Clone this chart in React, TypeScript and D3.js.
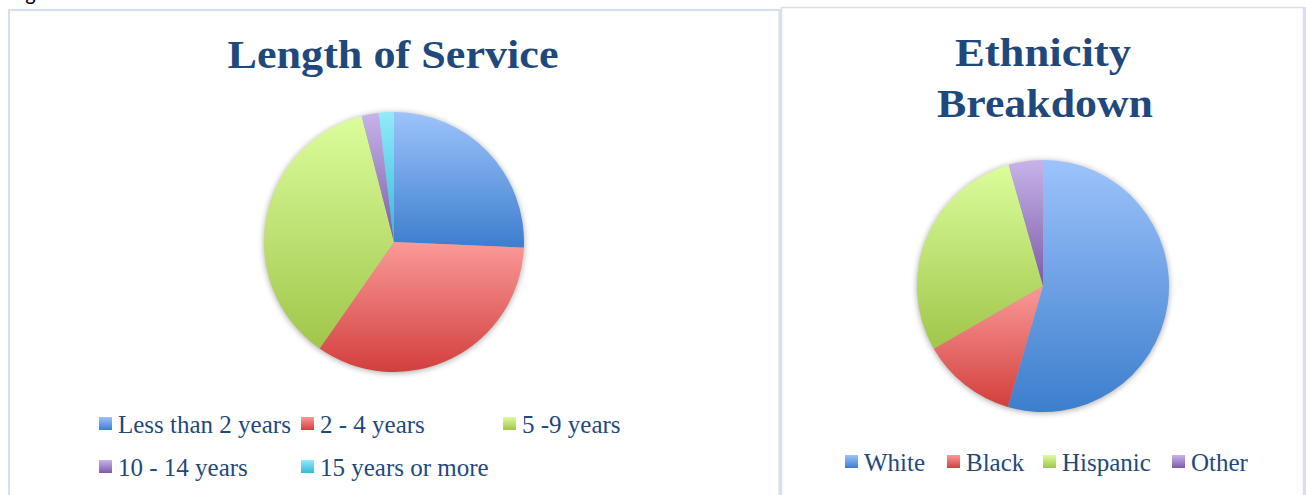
import React from "react";
import * as d3 from "d3";

const lengthCategories = ["Less than 2 years", "2 - 4 years", "5 -9 years", "10 - 14 years", "15 years or more"];
const lengthValues = [25.7, 34.0, 36.3, 2.1, 1.9];

const ethnicityCategories = ["White", "Black", "Hispanic", "Other"];
const ethnicityValues = [54.5, 12.2, 28.9, 4.4];

const sliceColors: [string, string][] = [
  ["#9DC3FB", "#3C7ECD"],
  ["#FA9A98", "#D23F3D"],
  ["#DCFD9C", "#A0C64A"],
  ["#C7B3E9", "#7D5BA8"],
  ["#93EAFB", "#33B9D7"],
];

const W = 1306;
const H = 495;
const FONT = "'Liberation Serif', 'DejaVu Serif', serif";
const TEXT_COLOR = "#1F497D";
const BORDER = "#D4E0F0";

type PieProps = {
  id: string;
  values: number[];
  cx: number;
  cy: number;
  r: number;
};

function Pie({ id, values, cx, cy, r }: PieProps) {
  const pie = d3.pie<number>().sort(null).value((d) => d).startAngle(0).endAngle(2 * Math.PI);
  const arc = d3.arc<d3.PieArcDatum<number>>().innerRadius(0).outerRadius(r);
  const arcs = pie(values);
  return (
    <g transform={`translate(${cx},${cy})`}>
      <circle r={r} fill="#fff" filter={`url(#shadow-${id})`} />
      {arcs.map((a, i) => (
        <path key={i} d={arc(a) || ""} fill={`url(#grad-${i})`} />
      ))}
    </g>
  );
}

type LegendProps = {
  labels: string[];
  xs: number[];
  ys: number[];
  cols: number;
};

function Legend({ labels, xs, ys, cols }: LegendProps) {
  return (
    <g>
      {labels.map((lab, i) => {
        const x = xs[i % cols];
        const y = ys[Math.floor(i / cols)];
        return (
          <g key={lab}>
            <rect x={x} y={y - 16} width={13} height={13} fill={`url(#grad-${i})`} />
            <text x={x + 19} y={y} fontFamily={FONT} fontSize={25} fill={TEXT_COLOR}>
              {lab}
            </text>
          </g>
        );
      })}
    </g>
  );
}

export default function App() {
  return (
    <svg
      width={W}
      height={H}
      style={{ position: "absolute", left: 0, top: 0, background: "#fff" }}
    >
      <defs>
        {sliceColors.map((c, i) => (
          <linearGradient key={i} id={`grad-${i}`} x1="0" y1="0" x2="0" y2="1">
            <stop offset="0" stopColor={c[0]} />
            <stop offset="1" stopColor={c[1]} />
          </linearGradient>
        ))}
        {["a", "b"].map((k) => (
          <filter key={k} id={`shadow-${k}`} x="-20%" y="-20%" width="140%" height="140%">
            <feGaussianBlur in="SourceAlpha" stdDeviation="3" />
            <feOffset dx="0" dy="1" result="blur" />
            <feComponentTransfer>
              <feFuncA type="linear" slope="0.35" />
            </feComponentTransfer>
          </filter>
        ))}
      </defs>

      {/* caption above panels, cut off at the top edge as in the reference */}
      <text x={10} y={0} fontFamily="'Carlito', 'Liberation Sans', sans-serif" fontSize={22} fill="#000">
        Figure 1: Workforce Breakdown
      </text>

      {/* panel borders */}
      <rect x={9} y={10} width={771} height={500} fill="#fff" stroke={BORDER} strokeWidth={2} />
      <rect x={781.5} y={7.5} width={522} height={500} fill="#fff" stroke={BORDER} strokeWidth={1.5} />
      <line x1={780} x2={780} y1={9} y2={H} stroke={BORDER} strokeWidth={3} />
      <line x1={1305} x2={1305} y1={7} y2={H} stroke={BORDER} strokeWidth={2} />

      {/* Left chart */}
      <text
        x={393}
        y={68}
        textAnchor="middle"
        fontFamily={FONT}
        fontWeight="bold"
        fontSize={40}
        fill={TEXT_COLOR}
        textLength={331}
        lengthAdjust="spacingAndGlyphs"
      >
        Length of Service
      </text>
      <Pie id="a" values={lengthValues} cx={394} cy={242} r={130} />
      <Legend labels={lengthCategories} xs={[99, 301, 503]} ys={[433, 476]} cols={3} />

      {/* Right chart */}
      <text
        x={1043}
        y={66}
        textAnchor="middle"
        fontFamily={FONT}
        fontWeight="bold"
        fontSize={40}
        fill={TEXT_COLOR}
        textLength={176}
        lengthAdjust="spacingAndGlyphs"
      >
        Ethnicity
      </text>
      <text
        x={1045}
        y={117}
        textAnchor="middle"
        fontFamily={FONT}
        fontWeight="bold"
        fontSize={40}
        fill={TEXT_COLOR}
        textLength={216}
        lengthAdjust="spacingAndGlyphs"
      >
        Breakdown
      </text>
      <Pie id="b" values={ethnicityValues} cx={1043} cy={286} r={126} />
      <Legend labels={ethnicityCategories} xs={[845, 947, 1043, 1172]} ys={[471]} cols={4} />
    </svg>
  );
}
